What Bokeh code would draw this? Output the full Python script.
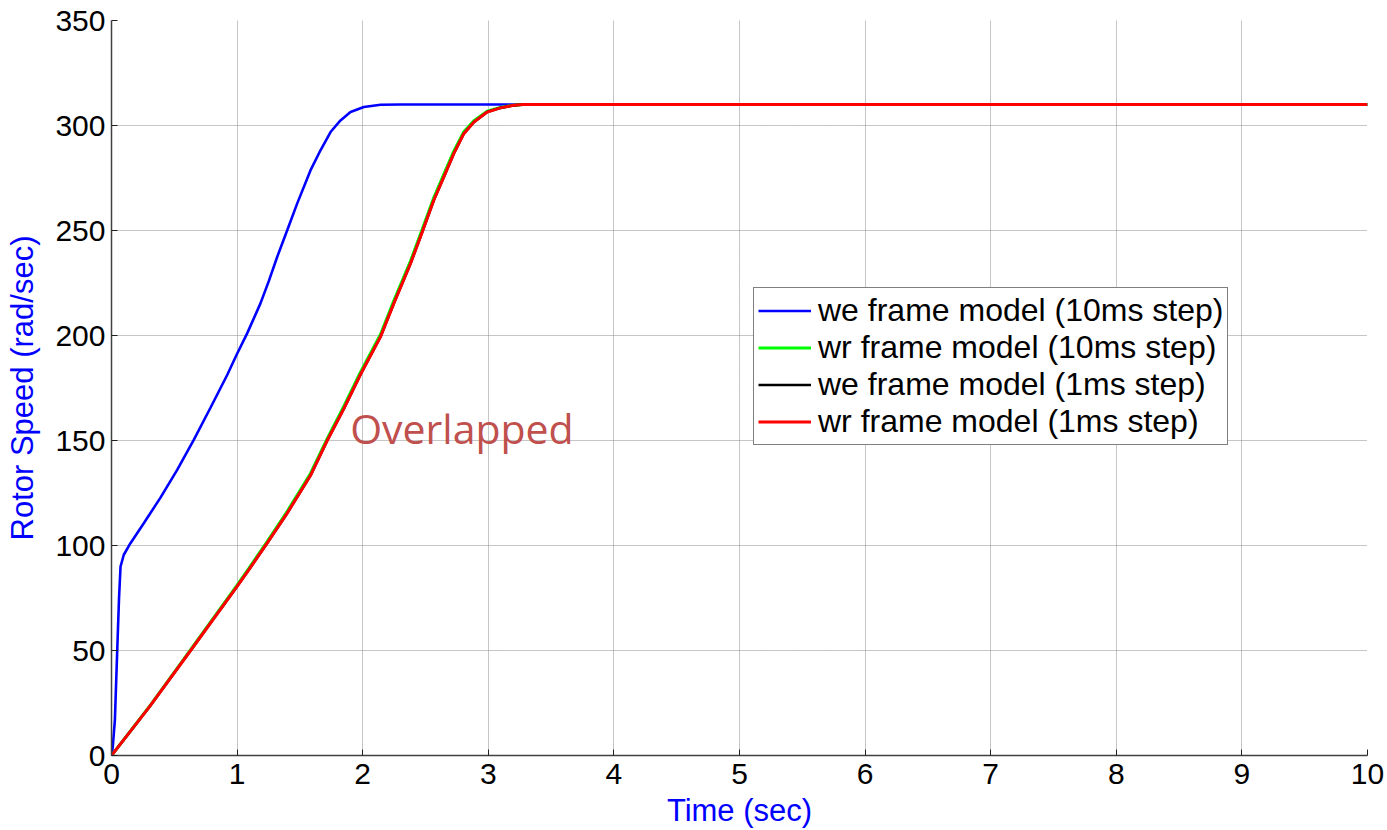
from bokeh.plotting import figure
from bokeh.models import FixedTicker, Legend, LegendItem, Range1d, Label
from bokeh.embed import file_html
from bokeh.resources import INLINE

# ---- data ----
we10_t = [0, 0.01, 0.027, 0.045, 0.06, 0.072, 0.098, 0.151, 0.257, 0.39, 0.523, 0.655, 0.788,
          0.921, 1.0, 1.08, 1.186, 1.253, 1.319, 1.399, 1.478, 1.584, 1.664, 1.744, 1.823,
          1.903, 2.009, 2.142, 2.3, 10]
we10_v = [0, 4, 17, 49, 75, 90, 95.6, 101.1, 110.6, 122.8, 136.0, 150.3, 165.6,
          181.2, 191.3, 201, 215.3, 226.0, 237.4, 250.1, 262.8, 278.6, 288.2, 296.9, 302.4,
          306.4, 308.8, 309.9, 310, 310]

wr10_t = [0, 0.3, 0.63, 1.0, 1.093, 1.239, 1.399, 1.584, 1.717, 1.85, 1.982, 2.142, 2.248,
          2.381, 2.474, 2.566, 2.646, 2.725, 2.805, 2.885, 2.991, 3.097, 3.203, 3.28, 10]
wr10_v = [0, 23.2, 50.4, 81.1, 89.1, 101.9, 116.3, 134.3, 150.9, 166.3, 182.5, 200.6, 216.6,
          235.6, 250.6, 265.7, 276.9, 287.8, 297.0, 302.3, 306.8, 308.6, 309.7, 310, 310]

we1_t = [0, 0.3, 0.63, 1.0, 1.093, 1.239, 1.399, 1.584, 1.717, 1.85, 1.982, 2.142, 2.248,
         2.381, 2.474, 2.566, 2.646, 2.725, 2.805, 2.885, 2.991, 3.097, 3.203, 3.28, 10]
we1_v = [0, 23, 50, 80.5, 88.4, 101.1, 115.4, 133.3, 149.9, 165.2, 181.4, 199.4, 215.3,
         234.3, 249.3, 264.4, 275.5, 286.6, 296.1, 301.6, 306.4, 308.4, 309.6, 310, 310]

wr1_t = [0, 0.3, 0.63, 1.0, 1.093, 1.239, 1.399, 1.584, 1.717, 1.85, 1.982, 2.142, 2.248,
         2.381, 2.474, 2.566, 2.646, 2.725, 2.805, 2.885, 2.991, 3.097, 3.203, 3.28, 10]
wr1_v = [0, 23, 50, 80.5, 88.4, 101.1, 115.4, 133.3, 149.9, 165.2, 181.4, 199.4, 215.3,
         234.3, 249.3, 264.4, 275.5, 286.6, 296.1, 301.6, 306.4, 308.4, 309.6, 310, 310]

series_labels = ["we frame model (10ms step)", "wr frame model (10ms step)",
                 "we frame model (1ms step)", "wr frame model (1ms step)"]
x_ticks = list(range(0, 11))
y_ticks = list(range(0, 351, 50))

FONT = "Liberation Sans"

p = figure(width=1387, height=830, output_backend="svg", toolbar_location=None,
           x_range=Range1d(0, 10), y_range=Range1d(0, 350),
           min_border_left=111, min_border_right=20, min_border_top=20, min_border_bottom=74)
p.outline_line_color = None
p.background_fill_color = "white"
p.border_fill_color = "white"

r_blue = p.line(we10_t, we10_v, line_color="#0000FF", line_width=2.6)
r_green = p.line(wr10_t, wr10_v, line_color="#00FF00", line_width=3)
r_black = p.line(we1_t, we1_v, line_color="#000000", line_width=2.6)
r_red = p.line(wr1_t, wr1_v, line_color="#FF0000", line_width=3)

for ax in (p.xaxis[0], p.yaxis[0]):
    ax.axis_line_color = "#404040"
    ax.axis_line_width = 1.5
    ax.major_tick_line_color = "#202020"
    ax.major_tick_in = 6
    ax.major_tick_out = 0
    ax.minor_tick_line_color = None
    ax.major_label_text_font = FONT
    ax.major_label_text_font_size = "30px"
    ax.major_label_text_color = "black"
    ax.axis_label_text_font = FONT
    ax.axis_label_text_font_size = "31px"
    ax.axis_label_text_font_style = "normal"
    ax.axis_label_text_color = "#0000FF"

p.xaxis.ticker = FixedTicker(ticks=x_ticks)
p.yaxis.ticker = FixedTicker(ticks=y_ticks)
p.xaxis.axis_label = "Time (sec)"
p.yaxis.axis_label = "Rotor Speed (rad/sec)"
p.xaxis.major_label_standoff = 8
p.yaxis.major_label_standoff = 6
p.xaxis.axis_label_standoff = 6
p.yaxis.axis_label_standoff = 12

for g in (p.xgrid[0], p.ygrid[0]):
    g.grid_line_color = "#8c8c8c"
    g.grid_line_width = 1
    g.grid_line_dash = "1 1"

legend = Legend(items=[
    LegendItem(label=series_labels[0], renderers=[r_blue]),
    LegendItem(label=series_labels[1], renderers=[r_green]),
    LegendItem(label=series_labels[2], renderers=[r_black]),
    LegendItem(label=series_labels[3], renderers=[r_red]),
], location=(642, 310))
legend.label_text_font = FONT
legend.label_text_font_size = "32px"
legend.label_text_color = "black"
legend.border_line_color = "black"
legend.border_line_width = 1.5
legend.background_fill_color = "white"
legend.background_fill_alpha = 1
legend.padding = 4
legend.spacing = 0
legend.margin = 0
legend.label_height = 35
legend.glyph_height = 35
legend.glyph_width = 53
legend.label_standoff = 7
p.add_layout(legend, "center")

p.add_layout(Label(x=1.9, y=156, text="Overlapped", text_font="Open Sans",
                   text_font_size="41px", text_color="#C0504D",
                   text_baseline="alphabetic"))

open("out.html", "w").write(file_html(p, INLINE))
